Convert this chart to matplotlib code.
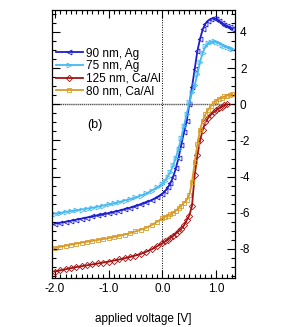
import numpy as np
import matplotlib
matplotlib.use("Agg")
import matplotlib.pyplot as plt
from matplotlib.ticker import MultipleLocator

plt.rcParams['font.family'] = ['Liberation Sans', 'DejaVu Sans']
plt.rcParams['axes.unicode_minus'] = False

##################### Data ######################
# applied voltage [V]
v = [-2.0, -1.9, -1.8, -1.7, -1.6, -1.5, -1.4, -1.3, -1.2, -1.1, -1.0,
     -0.9, -0.8, -0.7, -0.6, -0.5, -0.4, -0.3, -0.2, -0.1, 0.0,
     0.05, 0.1, 0.15, 0.2, 0.25, 0.3, 0.35, 0.4, 0.45, 0.5, 0.55, 0.6,
     0.65, 0.7, 0.75, 0.8, 0.85, 0.9, 0.95, 1.0, 1.05, 1.1, 1.15, 1.2,
     1.25, 1.3]

ag90 = [-6.6, -6.55, -6.5, -6.44, -6.38, -6.32, -6.26, -6.2, -6.14, -6.08, -6.02,
        -5.95, -5.88, -5.8, -5.72, -5.63, -5.53, -5.42, -5.3, -5.15, -4.95,
        -4.8, -4.6, -4.35, -4.0, -3.55, -2.95, -2.25, -1.55, -0.95, 0.0, 0.95, 1.95,
        2.95, 3.62, 4.15, 4.45, 4.62, 4.72, 4.75, 4.72, 4.62, 4.5, 4.4, 4.32,
        4.25, 4.18]

ag75 = [-6.05, -6.0, -5.95, -5.9, -5.86, -5.82, -5.77, -5.72, -5.66, -5.6, -5.53,
        -5.47, -5.4, -5.32, -5.24, -5.15, -5.05, -4.93, -4.78, -4.6, -4.4,
        -4.22, -4.0, -3.72, -3.38, -2.95, -2.45, -1.85, -1.2, -0.55, 0.1, 0.65, 1.05,
        1.65, 2.35, 2.85, 3.2, 3.38, 3.45, 3.47, 3.45, 3.38, 3.3, 3.22, 3.15,
        3.1, 3.05]

caal125 = [-9.25, -9.18, -9.12, -9.06, -9.0, -8.95, -8.9, -8.85, -8.8, -8.75, -8.7,
           -8.64, -8.58, -8.51, -8.44, -8.36, -8.27, -8.15, -8.02, -7.85, -7.68,
           -7.58, -7.48, -7.38, -7.27, -7.15, -7.02, -6.88, -6.7, -6.42, -6.15, -5.6, -3.9,
           -2.8, -2.0, -1.4, -1.0, -0.75, -0.58, -0.45, -0.33, -0.22, -0.13, -0.06, 0.0]

caal80 = [-7.95, -7.88, -7.82, -7.76, -7.7, -7.65, -7.6, -7.55, -7.5, -7.45, -7.4,
          -7.34, -7.27, -7.2, -7.12, -7.03, -6.93, -6.82, -6.68, -6.5, -6.3,
          -6.22, -6.15, -6.08, -6.0, -5.88, -5.75, -5.6, -5.45, -5.3, -5.0, -4.3, -3.2,
          -2.2, -1.4, -0.9, -0.55, -0.3, -0.1, 0.05, 0.2, 0.3, 0.37, 0.43, 0.48,
          0.52, 0.55]

##################### Plot ######################
fig = plt.figure(figsize=(2.86, 3.27), dpi=100)
ax = fig.add_axes([0.182, 0.150, 0.640, 0.819])

ax.axhline(0, color='#555555', lw=1.0, ls=(0, (1, 0.5)), zorder=1)
ax.axvline(0, color='k', lw=0.7, ls=(0, (1, 1.5)), zorder=1)

mk = dict(fillstyle='none', markersize=3.5, markeredgewidth=0.6, lw=1.3)
ax.plot(v, ag90, '-', marker='<', color='#1c1cd2', label='90 nm, Ag', **mk)
ax.plot(v, ag75, '-', marker='>', color='#45b9f2', label='75 nm, Ag', **mk)
ax.plot(v[:len(caal125)], caal125, '-', marker='D', color='#a51212',
        label='125 nm, Ca/Al', **dict(mk, markersize=3.2))
ax.plot(v, caal80, '-', marker='s', color='#d99a26', label='80 nm, Ca/Al', **mk)

ax.set_xlim(-2.05, 1.35)
ax.set_ylim(-9.6, 5.2)
ax.xaxis.set_major_locator(MultipleLocator(1.0))
ax.xaxis.set_minor_locator(MultipleLocator(0.1))
ax.yaxis.set_major_locator(MultipleLocator(2))
ax.yaxis.set_minor_locator(MultipleLocator(0.5))
ax.xaxis.set_major_formatter(plt.FormatStrFormatter('%.1f'))
ax.tick_params(which='both', direction='in', top=True, bottom=True,
               left=True, right=True, labelleft=False, labelright=True,
               labelsize=8.5, width=0.8)
ax.tick_params(which='major', length=6)
ax.tick_params(which='minor', length=3)
for s in ax.spines.values():
    s.set_linewidth(0.9)

ax.set_xlabel('applied voltage [V]', fontsize=8.5, labelpad=13)
ax.text(0.235, 0.57, '(b)', transform=ax.transAxes, fontsize=9,
        ha='center', va='center')

ax.legend(loc='upper left', bbox_to_anchor=(0.02, 0.86), frameon=False,
          fontsize=8.5, handlelength=2.3, handletextpad=0.3,
          labelspacing=0.05, borderaxespad=0, borderpad=0)

plt.savefig('out.png', dpi=100)
